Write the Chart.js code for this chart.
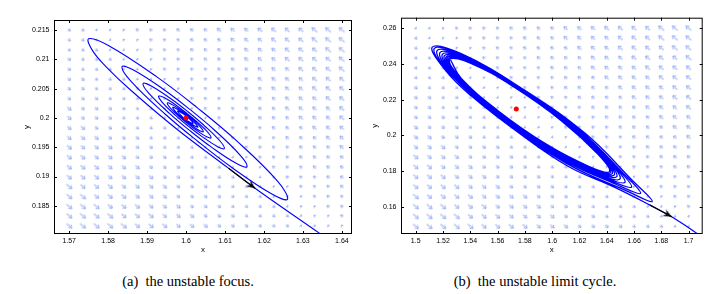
<!DOCTYPE html>
<html>
<head>
<meta charset="utf-8">
<script src="https://cdn.jsdelivr.net/npm/chart.js@4.4.1/dist/chart.umd.min.js"></script>
<style>
  body { margin: 0; background: #fff; width: 720px; height: 294px; position: relative; overflow: hidden; }
  .plot { position: absolute; top: 0; }
  .cap { position: absolute; top: 273px; font-family: "Liberation Serif", "DejaVu Serif", serif; font-size: 14.5px; line-height: 16px; color: #000; white-space: nowrap; transform: translateX(-50%); }
</style>
</head>
<body>
<canvas id="focusChart" class="plot" style="left:0" width="360" height="260"></canvas>
<canvas id="cycleChart" class="plot" style="left:360px" width="360" height="260"></canvas>
<div class="cap" style="left:188px">(a)&nbsp; the unstable focus.</div>
<div class="cap" style="left:535px">(b)&nbsp; the unstable limit cycle.</div>
<script>
// ---- (a) unstable focus ----
const focusTicksX = [1.57, 1.58, 1.59, 1.6, 1.61, 1.62, 1.63, 1.64];
const focusTicksY = [0.185, 0.19, 0.195, 0.2, 0.205, 0.21, 0.215];
const focusGridX = [1.57, 1.5735, 1.577, 1.5805, 1.584, 1.5875, 1.591, 1.5945, 1.598, 1.6015, 1.605,
  1.6085, 1.612, 1.6155, 1.619, 1.6225, 1.626, 1.6295, 1.633, 1.6365, 1.64];
const focusGridY = [0.1816, 0.1833, 0.1849, 0.1866, 0.1883, 0.1899, 0.1916, 0.1933, 0.195, 0.1966, 0.1983,
  0.2, 0.2016, 0.2033, 0.205, 0.2066, 0.2083, 0.21, 0.2116, 0.2133, 0.215];
// x where the field turns from down-right to up-left, one per grid row
const focusFlipX = [1.635, 1.6318, 1.6286, 1.6255, 1.6223, 1.6191, 1.6159, 1.6127, 1.6095, 1.6064, 1.6032,
  1.6, 1.5978, 1.5956, 1.5933, 1.5911, 1.5889, 1.5867, 1.5844, 1.5822, 1.58];
const focusPathX = [1.6003, 1.6018, 1.60003, 1.5978, 1.60011, 1.603, 1.60227, 1.60012, 1.59779, 1.59659,
  1.59747, 1.6001, 1.60295, 1.60441, 1.60336, 1.60028, 1.59691, 1.59519, 1.59648, 1.60024,
  1.60433, 1.60641, 1.60488, 1.60034, 1.59546, 1.59299, 1.59383, 1.5973, 1.6006, 1.60403,
  1.60813, 1.60981, 1.60876, 1.60445, 1.60037, 1.59611, 1.59106, 1.58898, 1.59035, 1.59587,
  1.60109, 1.60652, 1.61298, 1.61562, 1.61398, 1.60734, 1.60105, 1.59452, 1.58674, 1.58358,
  1.58583, 1.59468, 1.60304, 1.61167, 1.62192, 1.62604, 1.62348, 1.61293, 1.60291, 1.5925,
  1.58006, 1.575, 1.576, 1.57936, 1.58589, 1.59767, 1.61088, 1.6177, 1.6343, 1.6372];
const focusPathY = [0.1995, 0.19904, 0.2003, 0.20117, 0.19955, 0.1984, 0.1991, 0.20038, 0.20149, 0.20181,
  0.20096, 0.1994, 0.19803, 0.19765, 0.19867, 0.20051, 0.2021, 0.20256, 0.20133, 0.19911,
  0.19715, 0.19659, 0.19804, 0.20069, 0.20306, 0.20373, 0.20271, 0.20044, 0.19859, 0.19685,
  0.19509, 0.19477, 0.19602, 0.19883, 0.20112, 0.20327, 0.20546, 0.20587, 0.20427, 0.20069,
  0.19777, 0.19501, 0.19221, 0.19168, 0.19358, 0.1979, 0.20141, 0.20473, 0.20809, 0.20875,
  0.20628, 0.20062, 0.19598, 0.19158, 0.18706, 0.18613, 0.18922, 0.19612, 0.20172, 0.207,
  0.21235, 0.2135, 0.21147, 0.20881, 0.20467, 0.19807, 0.19143, 0.188, 0.1803, 0.179];
const focusArrowX = [1.6109, 1.6177];
const focusArrowY = [0.1914, 0.188];
const focusEq = [1.6, 0.2];

// ---- (b) unstable limit cycle ----
const cycleTicksX = [1.5, 1.52, 1.54, 1.56, 1.58, 1.6, 1.62, 1.64, 1.66, 1.68, 1.7];
const cycleTicksY = [0.16, 0.18, 0.2, 0.22, 0.24, 0.26];
const cycleGridX = [1.5, 1.51, 1.52, 1.53, 1.54, 1.55, 1.56, 1.57, 1.58, 1.59, 1.6,
  1.61, 1.62, 1.63, 1.64, 1.65, 1.66, 1.67, 1.68, 1.69, 1.7];
const cycleGridY = [0.149, 0.1546, 0.1601, 0.1657, 0.1712, 0.1768, 0.1823, 0.1879, 0.1934, 0.199, 0.2045,
  0.2101, 0.2156, 0.2212, 0.2267, 0.2323, 0.2378, 0.2434, 0.2489, 0.2545, 0.26];
const cycleFlipX = [1.705, 1.693, 1.681, 1.67, 1.658, 1.647, 1.636, 1.625, 1.614, 1.603, 1.592,
  1.582, 1.573, 1.564, 1.556, 1.548, 1.54, 1.532, 1.525, 1.518, 1.511];
const cyclePathX = [
  1.52554, 1.5334, 1.56029, 1.59534, 1.62715, 1.64194, 1.63339, 1.60685, 1.57188, 1.54042,
  1.52494, 1.53282, 1.56001, 1.59552, 1.62779, 1.64284, 1.63419, 1.60727, 1.57176, 1.5398,
  1.52404, 1.53201, 1.55966, 1.59579, 1.62868, 1.64404, 1.63527, 1.6079, 1.57175, 1.53921,
  1.52314, 1.53122, 1.55939, 1.59625, 1.62983, 1.64554, 1.63661, 1.60872, 1.57185, 1.53865,
  1.52224, 1.53047, 1.55924, 1.59692, 1.63126, 1.64734, 1.6382, 1.60962, 1.57186, 1.53785,
  1.52104, 1.5295, 1.5591, 1.59786, 1.63319, 1.64974, 1.64029, 1.61081, 1.57189, 1.53684,
  1.51954, 1.52838, 1.55919, 1.59948, 1.63656, 1.65334, 1.64307, 1.61268, 1.57214, 1.53568,
  1.51774, 1.52712, 1.5595, 1.60178, 1.64099, 1.65814, 1.64688, 1.61522, 1.57261, 1.53438,
  1.51564, 1.52576, 1.56024, 1.60514, 1.64704, 1.66474, 1.6523, 1.61893, 1.57372, 1.53325,
  1.51354, 1.52461, 1.56168, 1.60978, 1.65488, 1.67332, 1.65954, 1.62417, 1.57594, 1.53291,
  1.5121, 1.52191, 1.54039, 1.57513, 1.61155, 1.64554, 1.67168, 1.68753, 1.71274];
const cyclePathY = [
  0.24218, 0.23181, 0.21378, 0.19518, 0.18252, 0.17972, 0.18943, 0.20809, 0.22707, 0.24036,
  0.24251, 0.23191, 0.2136, 0.19476, 0.182, 0.17923, 0.18914, 0.20812, 0.22739, 0.24085,
  0.24299, 0.23214, 0.21347, 0.1943, 0.18136, 0.17859, 0.18871, 0.20804, 0.22765, 0.24133,
  0.24347, 0.23236, 0.21328, 0.19372, 0.18056, 0.17778, 0.18812, 0.20786, 0.22786, 0.2418,
  0.24396, 0.23256, 0.21305, 0.19305, 0.17963, 0.17682, 0.18741, 0.20763, 0.22812, 0.24239,
  0.2446, 0.23287, 0.2128, 0.19223, 0.17842, 0.17553, 0.18642, 0.20725, 0.22836, 0.2431,
  0.2454, 0.23326, 0.21242, 0.19105, 0.17706, 0.1736, 0.18447, 0.2065, 0.22849, 0.24388,
  0.24637, 0.23375, 0.21193, 0.1895, 0.17516, 0.17102, 0.18194, 0.20539, 0.22849, 0.24475,
  0.2475, 0.23427, 0.21121, 0.18737, 0.17243, 0.16748, 0.17851, 0.20365, 0.22816, 0.24552,
  0.24862, 0.23468, 0.21011, 0.18456, 0.16876, 0.16288, 0.17409, 0.2011, 0.22723, 0.24586,
  0.2494, 0.23626, 0.22224, 0.20154, 0.18268, 0.17094, 0.16088, 0.15435, 0.14172];
const cycleArrowX = [1.6716, 1.6875];
const cycleArrowY = [0.161, 0.1544];
const cycleEq = [1.5737, 0.2148];

Chart.defaults.font.family = "'Liberation Sans', Arial, sans-serif";
Chart.defaults.color = '#000';

const QUIVER_COLOR = 'rgb(150,172,242)';

// small quiver arrow pointing right, centred in the image
function arrowImage(len) {
  const c = document.createElement('canvas');
  c.width = 18; c.height = 18;
  const g = c.getContext('2d');
  g.strokeStyle = QUIVER_COLOR;
  g.lineWidth = 1;
  const x0 = 9 - len / 2, x1 = 9 + len / 2, h = Math.min(3, 1 + len * 0.35);
  g.beginPath();
  g.moveTo(x0, 9); g.lineTo(x1, 9);
  g.moveTo(x1 - h, 9 - h * 0.7); g.lineTo(x1, 9); g.lineTo(x1 - h, 9 + h * 0.7);
  g.stroke();
  return c;
}
const arrowImgs = [1, 2, 3, 4, 5, 6, 7].map(arrowImage);

// black arrow head, tip at the image centre
function headImage() {
  const c = document.createElement('canvas');
  c.width = 20; c.height = 20;
  const g = c.getContext('2d');
  g.fillStyle = '#000';
  g.beginPath();
  g.moveTo(10, 10); g.lineTo(1.5, 6.3); g.lineTo(4.5, 10); g.lineTo(1.5, 13.7);
  g.closePath();
  g.fill();
  return c;
}
const headImg = headImage();

// box with inward ticks on all four sides
const framePlugin = {
  id: 'frame',
  afterDraw(chart) {
    const { ctx, chartArea: a, scales: { x, y } } = chart;
    ctx.save();
    ctx.strokeStyle = '#000';
    ctx.lineWidth = 1;
    ctx.strokeRect(a.left + 0.5, a.top + 0.5, a.right - a.left - 1, a.bottom - a.top - 1);
    ctx.beginPath();
    x.ticks.forEach(t => {
      const px = Math.round(x.getPixelForValue(t.value)) + 0.5;
      ctx.moveTo(px, a.bottom); ctx.lineTo(px, a.bottom - 3);
      ctx.moveTo(px, a.top); ctx.lineTo(px, a.top + 3);
    });
    y.ticks.forEach(t => {
      const py = Math.round(y.getPixelForValue(t.value)) + 0.5;
      ctx.moveTo(a.left, py); ctx.lineTo(a.left + 3, py);
      ctx.moveTo(a.right, py); ctx.lineTo(a.right - 3, py);
    });
    ctx.stroke();
    ctx.restore();
  }
};

function buildPlot(id, o) {
  const quiver = [];
  o.gridY.forEach((gy, r) => o.gridX.forEach(gx => quiver.push({ x: gx, y: gy, r })));
  const pts = (xs, ys) => xs.map((x, i) => ({ x, y: ys[i] }));
  const offset = p => p.x - o.flipX[p.r];
  const arrowLen = p => Math.max(1, Math.min(7, Math.round(2 + Math.abs(offset(p)) * o.lenScale)));

  new Chart(document.getElementById(id), {
    type: 'line',
    data: {
      datasets: [
        {
          data: [{ x: o.eq[0], y: o.eq[1] }],
          showLine: false, pointRadius: 2.5,
          pointBackgroundColor: '#ff0000', pointBorderColor: '#ff0000', pointBorderWidth: 0
        },
        {
          data: pts(o.arrowX, o.arrowY),
          borderColor: '#000', borderWidth: 1.2, tension: 0,
          pointRadius: [0, 3], pointStyle: headImg,
          pointRotation: c => {
            const d = c.dataset.data, sx = c.chart.scales.x, sy = c.chart.scales.y;
            if (!sx || !sy) return 0;
            const dx = sx.getPixelForValue(d[1].x) - sx.getPixelForValue(d[0].x);
            const dy = sy.getPixelForValue(d[1].y) - sy.getPixelForValue(d[0].y);
            return Math.atan2(dy, dx) * 180 / Math.PI;
          }
        },
        {
          data: pts(o.pathX, o.pathY),
          borderColor: '#0000ff', borderWidth: o.pathWidth, pointRadius: 0, tension: 0.4, clip: 0
        },
        {
          data: quiver,
          showLine: false, pointRadius: 2,
          pointStyle: c => (c.raw ? arrowImgs[arrowLen(c.raw) - 1] : 'circle'),
          pointRotation: c => (c.raw && offset(c.raw) > 0 ? 220 : 40)
        }
      ]
    },
    options: {
      responsive: false,
      animation: false,
      events: [],
      layout: { padding: { top: o.top, right: o.right, left: 0, bottom: 0 } },
      plugins: { legend: { display: false }, tooltip: { enabled: false } },
      scales: {
        x: {
          type: 'linear', min: o.xMin, max: o.xMax,
          afterBuildTicks: s => { s.ticks = o.ticksX.map(v => ({ value: v })); },
          afterFit: s => { s.height = 26; },
          grid: { display: false, drawTicks: false, tickLength: 0 },
          border: { display: false },
          ticks: { autoSkip: false, maxRotation: 0, padding: 3, font: { size: 7 }, callback: v => String(v) },
          title: { display: true, text: 'x', font: { size: 8 }, padding: { top: 0, bottom: 5 } }
        },
        y: {
          type: 'linear', min: o.yMin, max: o.yMax,
          afterBuildTicks: s => { s.ticks = o.ticksY.map(v => ({ value: v })); },
          afterFit: s => { s.width = o.yWidth; },
          grid: { display: false, drawTicks: false, tickLength: 0 },
          border: { display: false },
          ticks: { autoSkip: false, padding: 4.5, font: { size: 7 }, callback: v => String(v) },
          title: { display: true, text: 'y', font: { size: 8 }, padding: { top: o.yTitle - 4.8, bottom: 0 } }
        }
      }
    },
    plugins: [framePlugin]
  });
}

buildPlot('focusChart', {
  ticksX: focusTicksX, ticksY: focusTicksY,
  gridX: focusGridX, gridY: focusGridY, flipX: focusFlipX, lenScale: 90,
  pathX: focusPathX, pathY: focusPathY, pathWidth: 1.1,
  arrowX: focusArrowX, arrowY: focusArrowY, eq: focusEq,
  xMin: 1.5661, xMax: 1.6426, yMin: 0.1802, yMax: 0.2167,
  top: 20, right: 8, yWidth: 54, yTitle: 27
});

buildPlot('cycleChart', {
  ticksX: cycleTicksX, ticksY: cycleTicksY,
  gridX: cycleGridX, gridY: cycleGridY, flipX: cycleFlipX, lenScale: 28,
  pathX: cyclePathX, pathY: cyclePathY, pathWidth: 1.3,
  arrowX: cycleArrowX, arrowY: cycleArrowY, eq: cycleEq,
  xMin: 1.4892, xMax: 1.7103, yMin: 0.1447, yMax: 0.2659,
  top: 17.7, right: 17.3, yWidth: 41, yTitle: 15
});
</script>
</body>
</html>
